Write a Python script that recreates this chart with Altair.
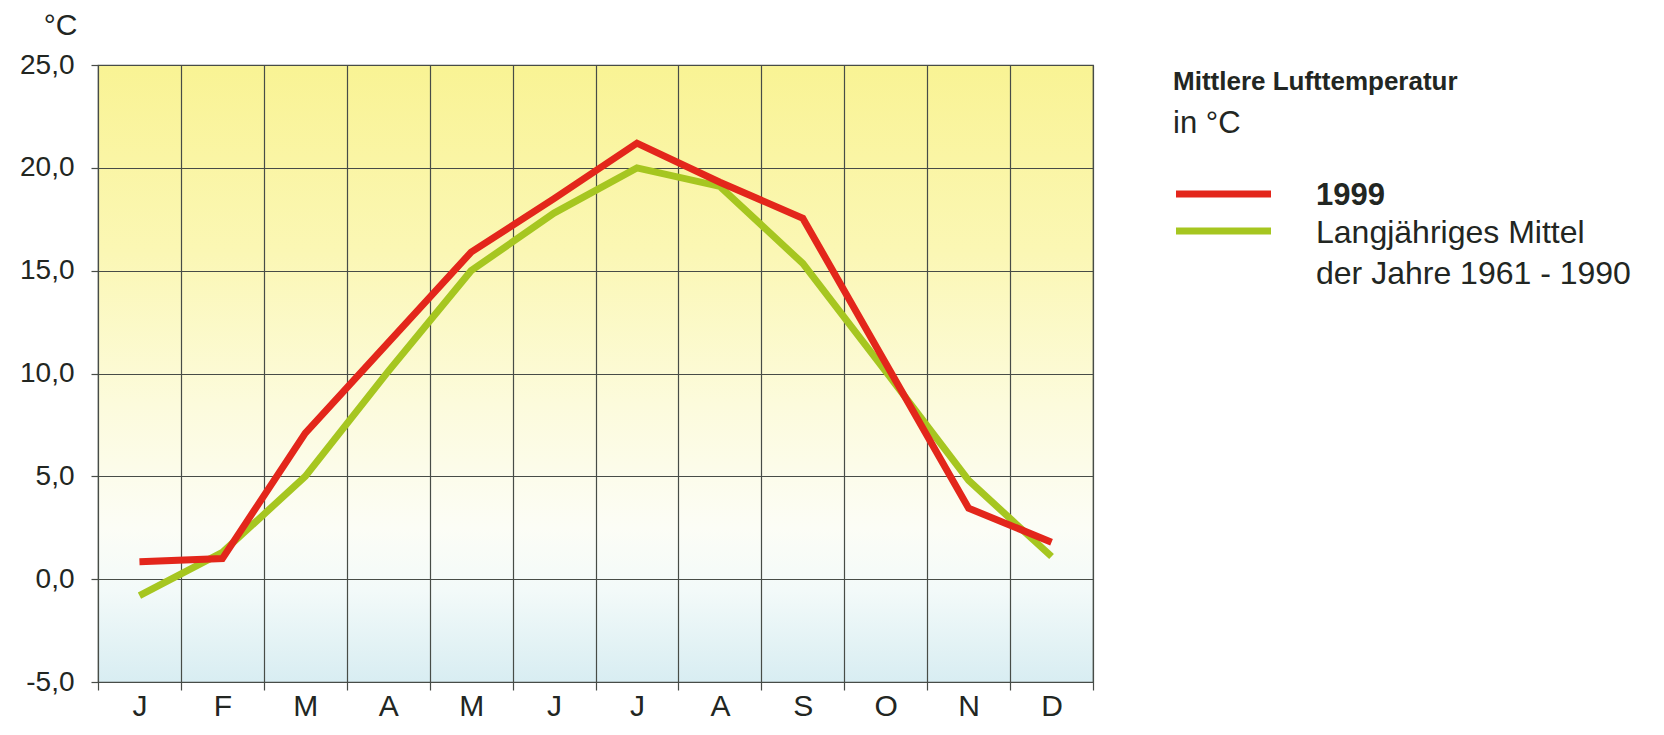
import altair as alt
import pandas as pd

# ---- data ----
month_labels = ["J", "F", "M", "A", "M", "J", "J", "A", "S", "O", "N", "D"]
temp_1999 = [0.85, 1.0, 7.1, 11.5, 15.9, 18.5, 21.2, 19.3, 17.55, 10.5, 3.45, 1.8]
temp_mean = [-0.8, 1.3, 5.0, 10.1, 15.0, 17.8, 20.0, 19.1, 15.35, 10.1, 4.8, 1.1]
series_names = ["Langjähriges Mittel der Jahre 1961 - 1990", "1999"]
y_ticks = [-5, 0, 5, 10, 15, 20, 25]

legend_title = "Mittlere Lufttemperatur"
legend_subtitle = "in °C"
legend_red = "1999"
legend_green_1 = "Langjähriges Mittel"
legend_green_2 = "der Jahre 1961 - 1990"

RED = "#e3261b"
GREEN = "#a6c620"
GRID = "#474c47"
TEXT = "#222622"
FONT = "Liberation Sans"

rows = []
for i, v in enumerate(temp_mean):
    rows.append({"m": i, "t": v, "series": series_names[0]})
for i, v in enumerate(temp_1999):
    rows.append({"m": i, "t": v, "series": series_names[1]})
df = pd.DataFrame(rows)

W, H = 995, 617

label_expr = "[" + ",".join("'%s'" % m for m in month_labels) + "][datum.value]"

x_enc = alt.X(
    "m:O",
    scale=alt.Scale(paddingInner=0, paddingOuter=0),
    axis=alt.Axis(
        title=None,
        tickBand="extent",
        grid=True,
        gridColor=GRID,
        gridWidth=1.2,
        gridOpacity=1,
        domain=False,
        ticks=True,
        tickSize=8,
        tickColor=GRID,
        tickWidth=1.2,
        labelAngle=0,
        labelFont=FONT,
        labelFontSize=30,
        labelColor=TEXT,
        labelPadding=1,
        labelExpr=label_expr,
    ),
)
y_enc = alt.Y(
    "t:Q",
    scale=alt.Scale(domain=[-5, 25], nice=False, zero=False),
    axis=alt.Axis(
        values=y_ticks,
        title="°C",
        titleAngle=0,
        titleAlign="right",
        titleBaseline="alphabetic",
        titleX=-21,
        titleY=-31,
        titleFont=FONT,
        titleFontSize=30,
        titleFontWeight="normal",
        titleColor=TEXT,
        grid=True,
        gridColor=GRID,
        gridWidth=1.2,
        gridOpacity=1,
        domain=False,
        tickSize=7,
        tickColor=GRID,
        tickWidth=1.2,
        labelFont=FONT,
        labelFontSize=28,
        labelColor=TEXT,
        labelPadding=17,
        labelExpr="replace(replace(format(datum.value, '.1f'), '.', ','), '\u2212', '-')",
    ),
)

lines = (
    alt.Chart(df)
    .mark_line(strokeWidth=7, strokeJoin="miter")
    .encode(
        x=x_enc,
        y=y_enc,
        color=alt.Color(
            "series:N",
            scale=alt.Scale(domain=series_names, range=[GREEN, RED]),
            legend=None,
        ),
        order=alt.Order("m:O"),
        detail="series:N",
    )
)

one = alt.Data(values=[{}])


def txt(s, x, y, bold=False, size=32):
    return alt.Chart(one).mark_text(
        align="left",
        baseline="alphabetic",
        font=FONT,
        fontSize=size,
        fontWeight="bold" if bold else "normal",
        color=TEXT,
    ).encode(x=alt.value(x), y=alt.value(y), text=alt.value(s))


def swatch(color, y):
    return alt.Chart(one).mark_rule(strokeWidth=7, color=color).encode(
        x=alt.value(1078), x2=alt.value(1173), y=alt.value(y)
    )


legend = [
    txt(legend_title, 1075, 25, bold=True, size=26),
    txt(legend_subtitle, 1075, 68, size=31),
    swatch(RED, 129),
    txt(legend_red, 1218, 140, bold=True, size=31),
    swatch(GREEN, 166),
    txt(legend_green_1, 1218, 178),
    txt(legend_green_2, 1218, 219),
]

gradient_expr = (
    "{gradient: 'linear', x1: 0, y1: 0, x2: 0, y2: 1, stops: ["
    "{offset: 0, color: '#f9f394'},"
    "{offset: 0.3, color: '#fbf7b4'},"
    "{offset: 0.55, color: '#fcfbdc'},"
    "{offset: 0.75, color: '#fcfdf6'},"
    "{offset: 0.85, color: '#f3faf9'},"
    "{offset: 1, color: '#d8edf2'}]}"
)

chart = alt.layer(lines, *legend).properties(
    width=W,
    height=H,
    autosize=alt.AutoSizeParams(type="none"),
    padding={"left": 90, "top": 57, "right": 555, "bottom": 40},
    view={"fill": {"expr": gradient_expr}, "stroke": GRID, "strokeWidth": 1.2},
    background="white",
)

chart.save("out.html", embed_options={"renderer": "svg", "actions": False})
